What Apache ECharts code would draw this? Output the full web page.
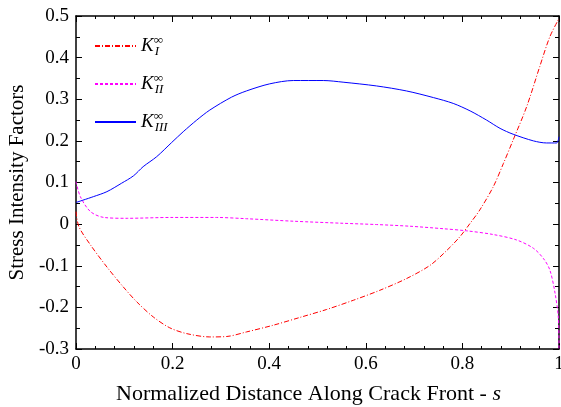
<!DOCTYPE html>
<html>
<head>
<meta charset="utf-8">
<style>
html, body { margin: 0; padding: 0; background: #fff; }
#main { width: 561px; height: 407px; }
</style>
<script src="https://cdn.jsdelivr.net/npm/echarts@6/dist/echarts.min.js"></script>
</head>
<body>
<div id="main"></div>
<script>
// K_I (red, dash-dot)
const sKI = [0, 0.006, 0.03, 0.064, 0.098, 0.126, 0.16, 0.194, 0.229, 0.277, 0.312, 0.353, 0.408, 0.464, 0.519, 0.574, 0.629, 0.684, 0.733, 0.767, 0.795, 0.816, 0.836, 0.864, 0.885, 0.905, 0.933, 0.96, 0.981, 1.0]
const vKI = [0.03, -0.006, -0.05, -0.103, -0.151, -0.187, -0.223, -0.249, -0.263, -0.271, -0.27, -0.259, -0.243, -0.224, -0.205, -0.183, -0.159, -0.131, -0.099, -0.064, -0.03, 0.002, 0.034, 0.09, 0.146, 0.202, 0.282, 0.378, 0.45, 0.494]
// K_II (magenta, dashed)
const sKII = [0, 0.009, 0.03, 0.058, 0.106, 0.196, 0.291, 0.353, 0.45, 0.553, 0.622, 0.691, 0.76, 0.808, 0.864, 0.912, 0.947, 0.968, 0.981, 0.992, 0.999, 1.0]
const vKII = [0.102, 0.066, 0.03, 0.016, 0.014, 0.016, 0.016, 0.013, 0.007, 0.002, -0.001, -0.005, -0.011, -0.016, -0.025, -0.038, -0.058, -0.083, -0.11, -0.167, -0.23, -0.3]
// K_III (blue, solid)
const sKIII = [0, 0.036, 0.064, 0.094, 0.119, 0.139, 0.167, 0.198, 0.222, 0.25, 0.277, 0.322, 0.353, 0.401, 0.45, 0.512, 0.553, 0.622, 0.684, 0.74, 0.781, 0.816, 0.85, 0.878, 0.905, 0.947, 0.974, 0.995, 1.0]
const vKIII = [0.052, 0.066, 0.078, 0.098, 0.116, 0.138, 0.162, 0.196, 0.222, 0.25, 0.274, 0.305, 0.32, 0.337, 0.345, 0.345, 0.341, 0.332, 0.32, 0.304, 0.29, 0.272, 0.25, 0.23, 0.216, 0.2, 0.195, 0.195, 0.21]

const seriesNames = ['KI', 'KII', 'KIII']
const subs = { KI: 'I', KII: 'II', KIII: 'III' }

function pairs (xs, ys) {
  return xs.map((x, i) => [x, ys[i]])
}

const font = 'Liberation Serif'
const lineStyle = { color: '#000', width: 1.5 }
const tickStyle = { show: true, inside: true, length: 6, lineStyle: { color: '#000', width: 1 } }
const minorX = { show: true, splitNumber: 5, length: 3, lineStyle: { color: '#000', width: 1 } }
const minorY = { show: true, splitNumber: 2, length: 4, lineStyle: { color: '#000', width: 1 } }

const myChart = echarts.init(document.getElementById('main'))
myChart.setOption({
  animation: false,
  backgroundColor: '#fff',
  grid: { left: 76, right: 2, top: 16, bottom: 58, containLabel: false, outerBoundsMode: 'none' },
  legend: {
    orient: 'vertical',
    left: 89,
    top: 29,
    itemWidth: 41,
    itemHeight: 10,
    itemGap: 14,
    itemStyle: { opacity: 0 },
    data: seriesNames,
    formatter: function (name) {
      return '{k|K}{sup|∞}{sub|' + subs[name] + '}'
    },
    textStyle: {
      fontFamily: font,
      rich: {
        k: { fontFamily: font, fontStyle: 'italic', fontSize: 19, color: '#000', lineHeight: 18 },
        sup: { fontFamily: font, fontStyle: 'italic', fontSize: 13, color: '#000', width: 1, verticalAlign: 'top', padding: [0, 0, 8, 0] },
        sub: { fontFamily: font, fontStyle: 'italic', fontSize: 13, color: '#000', verticalAlign: 'bottom', padding: [11, 0, 0, 0] }
      }
    }
  },
  xAxis: [{
    type: 'value',
    min: 0,
    max: 1,
    interval: 0.2,
    name: 'Normalized Distance Along Crack Front - {i|s}',
    nameLocation: 'middle',
    nameGap: 34,
    nameTextStyle: {
      fontFamily: font,
      fontSize: 22,
      color: '#000',
      padding: [0, 18, 0, 0],
      rich: { i: { fontFamily: font, fontSize: 22, fontStyle: 'italic', color: '#000' } }
    },
    axisLine: { show: true, onZero: false, lineStyle: lineStyle },
    axisTick: tickStyle,
    minorTick: minorX,
    splitLine: { show: false },
    axisLabel: { fontFamily: font, fontSize: 19, color: '#000', margin: 6 }
  }, {
    type: 'value',
    position: 'top',
    min: 0,
    max: 1,
    interval: 0.2,
    axisLine: { show: true, onZero: false, lineStyle: lineStyle },
    axisTick: tickStyle,
    minorTick: minorX,
    splitLine: { show: false },
    axisLabel: { show: false }
  }],
  yAxis: [{
    type: 'value',
    min: -0.3,
    max: 0.5,
    interval: 0.1,
    name: 'Stress Intensity Factors',
    nameLocation: 'middle',
    nameGap: 44,
    nameTextStyle: { fontFamily: font, fontSize: 21, color: '#000' },
    axisLine: { show: true, onZero: false, lineStyle: lineStyle },
    axisTick: tickStyle,
    minorTick: minorY,
    splitLine: { show: false },
    axisLabel: { fontFamily: font, fontSize: 19, color: '#000', margin: 7 }
  }, {
    type: 'value',
    position: 'right',
    min: -0.3,
    max: 0.5,
    interval: 0.1,
    axisLine: { show: true, onZero: false, lineStyle: lineStyle },
    axisTick: tickStyle,
    minorTick: minorY,
    splitLine: { show: false },
    axisLabel: { show: false }
  }],
  series: [
    {
      name: 'KI',
      type: 'line',
      smooth: 0.3,
      symbol: 'none',
      lineStyle: { color: '#ff0000', width: 1, type: [5, 2, 1, 2] },
      itemStyle: { color: '#ff0000' },
      data: pairs(sKI, vKI)
    },
    {
      name: 'KII',
      type: 'line',
      smooth: 0.3,
      symbol: 'none',
      lineStyle: { color: '#ff00ff', width: 1, type: [3, 2] },
      itemStyle: { color: '#ff00ff' },
      data: pairs(sKII, vKII)
    },
    {
      name: 'KIII',
      type: 'line',
      smooth: 0.3,
      symbol: 'none',
      lineStyle: { color: '#0000ff', width: 1 },
      itemStyle: { color: '#0000ff' },
      data: pairs(sKIII, vKIII)
    }
  ]
})
</script>
</body>
</html>
